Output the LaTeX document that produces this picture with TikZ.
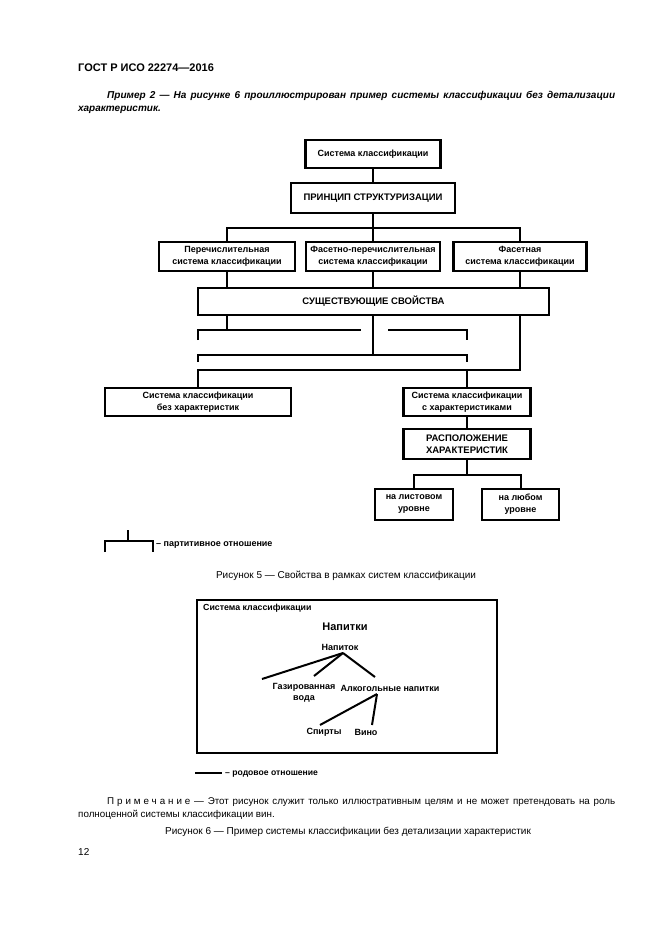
\documentclass[tikz,border=0pt]{standalone}
\usepackage{fontspec}
\setmainfont{Liberation Sans}
\newfontfamily\spaced[LetterSpace=30]{Liberation Sans}
\usetikzlibrary{positioning}

\tikzset{
  box/.style={draw, line width=2.2pt, font=\fontsize{9}{12}\selectfont\bfseries, align=center, inner sep=0pt},
  capsbox/.style={box, font=\fontsize{9.5}{11.5}\selectfont\bfseries},
  wire/.style={line width=2pt},
  plain/.style={font=\fontsize{10}{12}\selectfont, inner sep=0pt},
  leaf/.style={font=\fontsize{9}{11}\selectfont\bfseries, align=center, inner sep=1pt}
}

\begin{document}
\begin{tikzpicture}[x=1pt,y=-1pt]
  \useasboundingbox[fill=white] (0,0) rectangle (661,935);

  % page text
  \node[anchor=west, inner sep=0pt, font=\fontsize{11}{13}\selectfont\bfseries] (head) at (78,68) {ГОСТ Р ИСО 22274—2016};
  \node[anchor=north west, inner sep=0pt, text width=537pt, align=justify,
        font=\fontsize{10}{13}\selectfont\bfseries\itshape] (intro) at (78,91)
    {\hspace*{29pt}Пример 2 — На рисунке 6 проиллюстрирован пример системы классификации без детализации\linebreak характеристик.};

  % figure 5
  \node[box, minimum width=135pt, minimum height=28pt] (sys) at (373,154) {Система классификации};
  \node[capsbox, minimum width=164pt, minimum height=30pt] (princ) at (373,198) {ПРИНЦИП СТРУКТУРИЗАЦИИ};
  \node[box, minimum width=136pt, minimum height=29pt] (enum) at (227,256.5) {Перечислительная\\система классификации};
  \node[box, minimum width=134pt, minimum height=29pt] (facenum) at (373,256.5) {Фасетно-перечислительная\\система классификации};
  \node[box, minimum width=133pt, minimum height=29pt] (facet) at (520,256.5) {Фасетная\\система классификации};
  \node[capsbox, minimum width=351pt, minimum height=27pt] (exist) at (373.5,301.5) {СУЩЕСТВУЮЩИЕ СВОЙСТВА};
  \node[box, minimum width=186pt, minimum height=28pt] (nochar) at (198,402) {Система классификации\\без характеристик};
  \node[box, minimum width=127pt, minimum height=28pt] (withchar) at (467,402) {Система классификации\\с характеристиками};
  \node[capsbox, minimum width=127pt, minimum height=30pt] (place) at (467,444) {РАСПОЛОЖЕНИЕ\\ХАРАКТЕРИСТИК};
  \node[box, minimum width=78pt, minimum height=31pt] (leafl) at (414,504.5) {на листовом\\уровне};
  \node[box, minimum width=77pt, minimum height=31pt] (anyl) at (520.5,504.5) {на любом\\уровне};

  \draw[wire] (sys) -- (princ);
  \draw[wire] (princ) -- (373,228) coordinate (bus);
  \draw[wire] (enum.north) |- (bus) -| (facet.north);
  \draw[wire] (bus) -- (facenum);
  \draw[wire] (enum) -- (enum |- exist.north);
  \draw[wire] (facenum) -- (facenum |- exist.north);
  \draw[wire] (facet) -- (facet |- exist.north);

  \coordinate (a1) at (198,340);
  \coordinate (a2) at (467,340);
  \coordinate (b1) at (198,362);
  \coordinate (b2) at (467,362);
  \draw[wire] (227,315) -- (227,330);
  \draw[wire] (a1) -- (198,330) -- (361,330);
  \draw[wire] (388,330) -- (467,330) -- (a2);
  \draw[wire] (exist.south -| facenum) -- (373,355);
  \draw[wire] (b1) -- (198,355) -- (467,355) -- (b2);
  \draw[wire] (exist.south -| facet) -- (520,370) -- (198,370) -- (nochar.north);
  \draw[wire] (467,370) -- (withchar.north);

  \draw[wire] (withchar) -- (place);
  \draw[wire] (place) -- (467,475) coordinate (split);
  \draw[wire] (leafl.north) |- (split) -| (anyl.north);

  % legend 1
  \coordinate (p1) at (105,552);
  \coordinate (p2) at (153,552);
  \coordinate (p3) at (128,530);
  \draw[wire] (p1) -- (105,541) -- (153,541) -- (p2);
  \draw[wire] (p3) -- (128,541);
  \node[anchor=west, inner sep=0pt, font=\fontsize{9}{10}\selectfont\bfseries] (part) at (156,545) {– партитивное отношение};

  \node[plain] (cap5) at (346,576) {Рисунок 5 — Свойства в рамках систем классификации};

  % figure 6
  \draw[line width=2pt] (197,600) rectangle (497,753);
  \node[anchor=west, font=\fontsize{8.8}{10}\selectfont\bfseries, inner sep=0pt] (frame) at (203,608) {Система классификации};
  \node[font=\fontsize{11}{12}\selectfont\bfseries, inner sep=0pt] (drinks) at (345,627) {Напитки};
  \node[leaf] (drink) at (340,647) {Напиток};
  \node[leaf] (soda) at (304,693) {Газированная\\вода};
  \node[leaf] (alco) at (390,688) {Алкогольные напитки};
  \node[leaf] (spirit) at (324,732) {Спирты};
  \node[leaf] (wine) at (366,732) {Вино};

  \coordinate (top) at (343,653);
  \coordinate (free) at (262,679);
  \draw[wire] (top) -- (free);
  \draw[wire] (top) -- (314,676);
  \draw[wire] (top) -- (375,677);
  \draw[wire] (377,694) -- (320,725);
  \draw[wire] (377,694) -- (372,725);

  % legend 2
  \draw[wire] (195,773) coordinate (g1) -- (222,773) coordinate (g2);
  \node[anchor=west, inner sep=0pt, font=\fontsize{8.6}{10}\selectfont\bfseries] (genus) at (225,774) {– родовое отношение};

  % note and caption
  \node[anchor=north west, inner sep=0pt, text width=537pt, align=justify,
        font=\fontsize{9.8}{13}\selectfont] (note) at (78,797)
    {\hspace*{29pt}{\spaced Примечание} — Этот рисунок служит только иллюстративным целям и не может претендовать на роль\linebreak полноценной системы классификации вин.};
  \node[plain] (cap6) at (348,832) {Рисунок 6 — Пример системы классификации без детализации характеристик};
  \node[anchor=west, plain] (page) at (78,852) {12};
\end{tikzpicture}
\end{document}
